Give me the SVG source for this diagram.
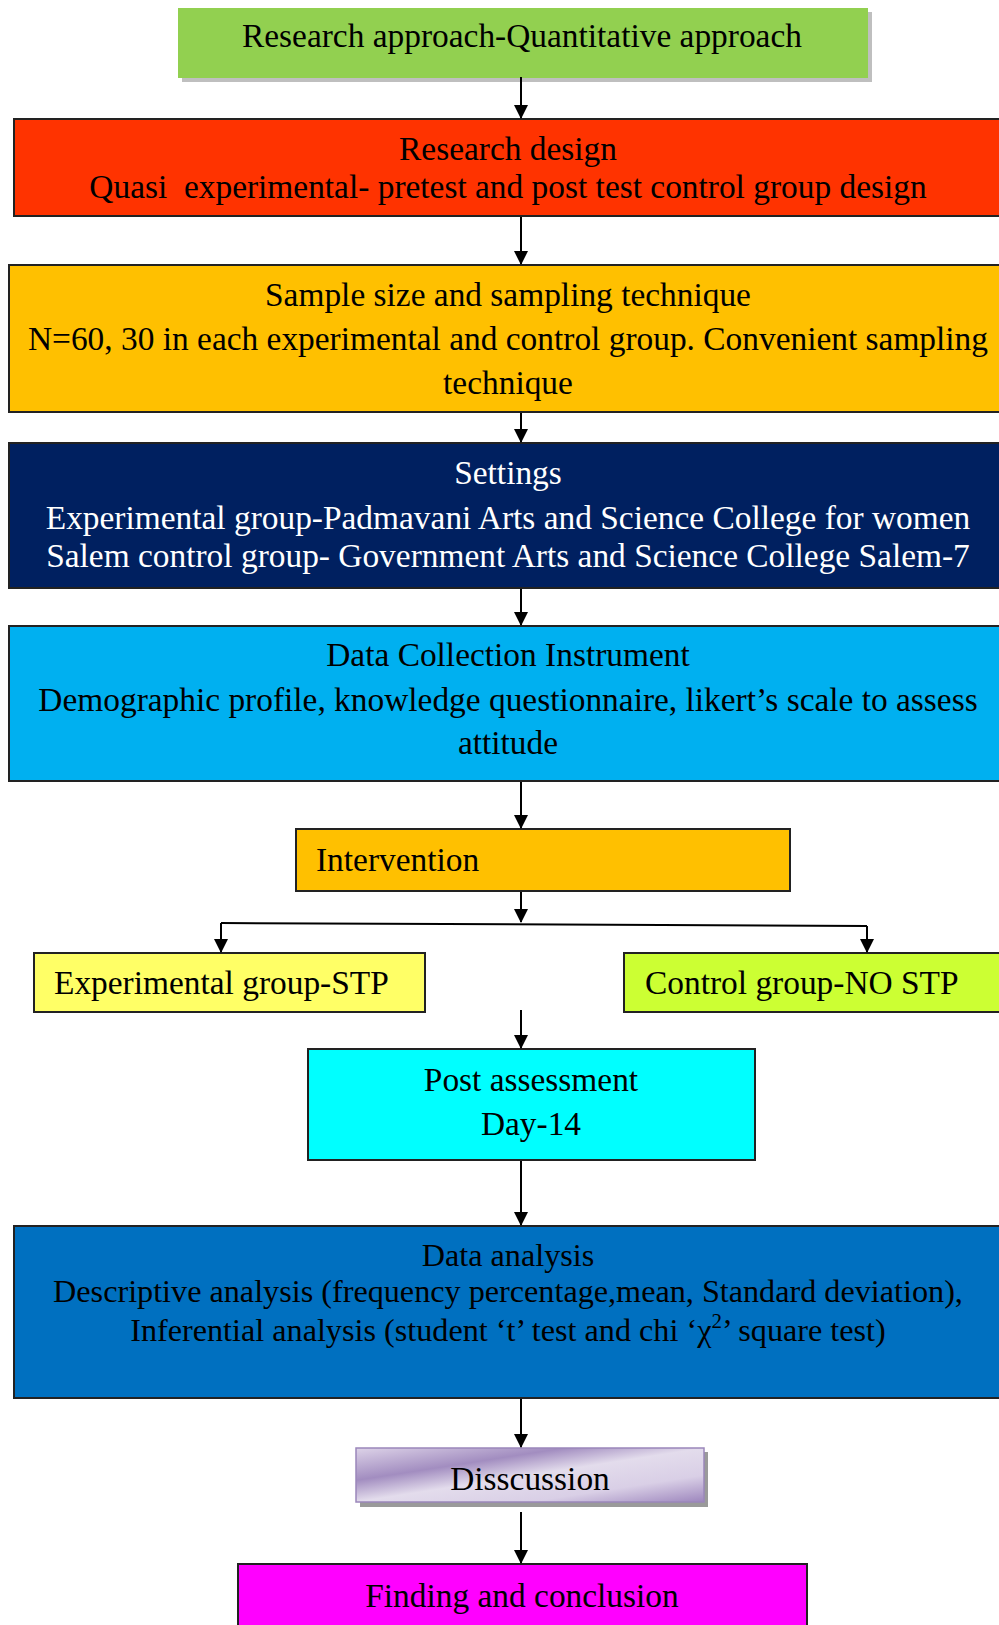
<svg xmlns="http://www.w3.org/2000/svg" width="999" height="1625" viewBox="0 0 999 1625">
<defs>
<marker id="ah" markerUnits="userSpaceOnUse" markerWidth="14" markerHeight="16" refX="13" refY="7" orient="auto">
<path d="M0,0 L14,7 L0,14 Z" fill="#000"/>
</marker>
<linearGradient id="pg" x1="0" y1="0" x2="1" y2="1">
<stop offset="0" stop-color="#ddd3e8"/>
<stop offset="0.3" stop-color="#a28dc0"/>
<stop offset="0.5" stop-color="#e3dcec"/>
<stop offset="0.75" stop-color="#d9cfe6"/>
<stop offset="1" stop-color="#9d86bd"/>
</linearGradient>
<style>
text{font-family:"Liberation Serif","Times New Roman",serif;font-size:33.4px;fill:#000}
.c{text-anchor:middle}
.w{fill:#fff}
.b{stroke:#222;stroke-width:2}
.e{stroke:#000;stroke-width:2;fill:none}
</style>
</defs>
<rect width="999" height="1625" fill="#fff"/>

<g id="approach">
<rect x="182" y="12" width="690" height="70" fill="#bfbfbf"/>
<rect x="178" y="8" width="690" height="70" fill="#92d050"/>
<text class="c" x="522" y="47">Research approach-Quantitative approach</text>
</g>

<g id="design">
<rect x="14" y="119" width="1000" height="97" fill="#ff3300" class="b"/>
<text class="c" x="508" y="160">Research design</text>
<text class="c" x="508" y="198" xml:space="preserve">Quasi  experimental- pretest and post test control group design</text>
</g>

<g id="sample">
<rect x="9" y="265" width="1005" height="147" fill="#ffc000" class="b"/>
<text class="c" x="508" y="306">Sample size and sampling technique</text>
<text class="c" x="508" y="350">N=60, 30 in each experimental and control group. Convenient sampling</text>
<text class="c" x="508" y="394">technique</text>
</g>

<g id="settings">
<rect x="9" y="443" width="1005" height="145" fill="#002060" class="b"/>
<text class="c w" x="508" y="484">Settings</text>
<text class="c w" x="508" y="529">Experimental group-Padmavani Arts and Science College for women</text>
<text class="c w" x="508" y="567">Salem control group- Government Arts and Science College Salem-7</text>
</g>

<g id="instrument">
<rect x="9" y="626" width="1005" height="155" fill="#00b0f0" class="b"/>
<text class="c" x="508" y="666">Data Collection Instrument</text>
<text class="c" x="508" y="711">Demographic profile, knowledge questionnaire, likert’s scale to assess</text>
<text class="c" x="508" y="754">attitude</text>
</g>

<g id="intervention">
<rect x="296" y="829" width="494" height="62" fill="#ffc000" class="b"/>
<text x="316" y="871">Intervention</text>
</g>

<g id="experimental">
<rect x="34" y="953" width="391" height="59" fill="#ffff66" class="b"/>
<text x="54" y="994">Experimental group-STP</text>
</g>

<g id="control">
<rect x="624" y="953" width="390" height="59" fill="#ccff33" class="b"/>
<text x="645" y="994">Control group-NO STP</text>
</g>

<g id="post">
<rect x="308" y="1049" width="447" height="111" fill="#00ffff" class="b"/>
<text class="c" x="531" y="1091">Post assessment</text>
<text class="c" x="531" y="1135">Day-14</text>
</g>

<g id="analysis">
<rect x="14" y="1226" width="1000" height="172" fill="#0070c0" class="b"/>
<text class="c" x="508" y="1266" style="font-size:32.2px">Data analysis</text>
<text class="c" x="508" y="1302" style="font-size:32.2px">Descriptive analysis (frequency percentage,mean, Standard deviation),</text>
<text class="c" x="508" y="1341" style="font-size:32.2px">Inferential analysis (student ‘t’ test and chi ‘χ<tspan dy="-13" style="font-size:21px">2</tspan><tspan dy="13">’ square test)</tspan></text>
</g>

<g id="discussion">
<rect x="360" y="1452" width="348" height="55" fill="#9a9a9a"/>
<rect x="356" y="1448" width="348" height="54" fill="url(#pg)" stroke="#9b87bb" stroke-width="1.5"/>
<text class="c" x="530" y="1490">Disscussion</text>
</g>

<g id="finding">
<rect x="238" y="1564" width="569" height="80" fill="#ff00ff" class="b"/>
<text class="c" x="522" y="1607">Finding and conclusion</text>
</g>

<g id="connectors">
<line class="e" x1="521" y1="77" x2="521" y2="118" marker-end="url(#ah)"/>
<line class="e" x1="521" y1="217" x2="521" y2="264" marker-end="url(#ah)"/>
<line class="e" x1="521" y1="413" x2="521" y2="442" marker-end="url(#ah)"/>
<line class="e" x1="521" y1="589" x2="521" y2="625" marker-end="url(#ah)"/>
<line class="e" x1="521" y1="782" x2="521" y2="828" marker-end="url(#ah)"/>
<line class="e" x1="521" y1="892" x2="521" y2="922" marker-end="url(#ah)"/>
<polyline class="e" points="221,923 867,926"/>
<line class="e" x1="221" y1="923" x2="221" y2="952" marker-end="url(#ah)"/>
<line class="e" x1="867" y1="926" x2="867" y2="952" marker-end="url(#ah)"/>
<line class="e" x1="521" y1="1010" x2="521" y2="1048" marker-end="url(#ah)"/>
<line class="e" x1="521" y1="1161" x2="521" y2="1225" marker-end="url(#ah)"/>
<line class="e" x1="521" y1="1399" x2="521" y2="1447" marker-end="url(#ah)"/>
<line class="e" x1="521" y1="1512" x2="521" y2="1563" marker-end="url(#ah)"/>
</g>
</svg>
